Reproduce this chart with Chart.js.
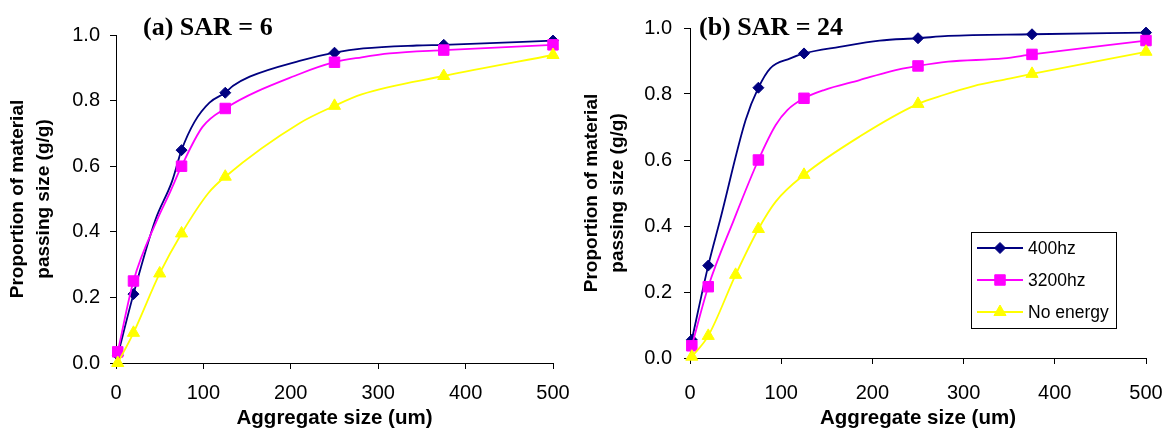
<!DOCTYPE html>
<html>
<head>
<meta charset="utf-8">
<script src="https://cdn.jsdelivr.net/npm/chart.js@4"></script>
<style>
  html, body { margin: 0; padding: 0; background: #fff; width: 1166px; height: 428px; overflow: hidden; position: relative; }
  .wrap { position: absolute; top: 0; height: 428px; }
  #wa { left: 0; width: 584px; }
  #wb { left: 574px; width: 608px; }
</style>
</head>
<body>
<div class="wrap" id="wa"><canvas id="ca"></canvas></div>
<div class="wrap" id="wb"><canvas id="cb"></canvas></div>
<script>
// ---------- data ----------
const seriesNames = ['400hz', '3200hz', 'No energy'];
const xTicks = [0, 100, 200, 300, 400, 500];
const yTicks = [0.0, 0.2, 0.4, 0.6, 0.8, 1.0];
const markedSizes = [2, 20, 75, 125, 250, 375, 500];
const markedSizesNoEnergy = [2, 20, 50, 75, 125, 250, 375, 500];

// (a) SAR = 6
const sizesA400 = [2, 20, 45, 64, 75, 90, 107, 125, 134, 153, 210, 250, 283, 344, 375, 500];
const passA400  = [0.024, 0.21, 0.436, 0.553, 0.649, 0.736, 0.794, 0.824, 0.845, 0.873, 0.921, 0.946, 0.959, 0.968, 0.970, 0.983];
const sizesA3200 = [2, 20, 47, 62, 75, 99, 125, 210, 250, 281, 313, 375, 500];
const passA3200  = [0.034, 0.25, 0.436, 0.522, 0.60, 0.72, 0.776, 0.881, 0.917, 0.932, 0.944, 0.954, 0.970];
const sizesANone = [2, 20, 50, 75, 106, 125, 210, 250, 281, 375, 500];
const passANone  = [0.0, 0.092, 0.273, 0.395, 0.519, 0.568, 0.731, 0.784, 0.819, 0.875, 0.939];

// (b) SAR = 24
const sizesB400 = [2, 20, 33, 61, 75, 88, 110, 125, 164, 208, 250, 283, 375, 500];
const passB400  = [0.055, 0.28, 0.418, 0.721, 0.819, 0.878, 0.908, 0.923, 0.943, 0.962, 0.969, 0.976, 0.981, 0.986];
const sizesB3200 = [2, 20, 48, 75, 94, 107, 125, 147, 186, 219, 250, 283, 344, 375, 500];
const passB3200  = [0.037, 0.216, 0.418, 0.60, 0.706, 0.752, 0.787, 0.812, 0.842, 0.868, 0.885, 0.898, 0.908, 0.920, 0.962];
const sizesBNone = [2, 20, 50, 75, 94, 125, 186, 250, 278, 311, 347, 375, 500];
const passBNone  = [0.004, 0.067, 0.252, 0.391, 0.474, 0.555, 0.671, 0.770, 0.797, 0.824, 0.845, 0.861, 0.928];

const titleA = '(a) SAR = 6';
const titleB = '(b) SAR = 24';
const xTitle = 'Aggregate size (um)';
const yTitle = ['Proportion of material', 'passing size (g/g)'];

// ---------- styles ----------
const COLORS = ['#000080', '#FF00FF', '#FFFF00'];
const SHAPES = ['rectRot', 'rect', 'triangle'];
const RADII = [5.5, 7.4, 7];
const SANS = '"Liberation Sans", Arial, sans-serif';

function pts(xs, ys) { return xs.map((x, i) => ({ x: x, y: ys[i] })); }

function makeDataset(i, xs, ys, marks) {
  return {
    label: seriesNames[i],
    data: pts(xs, ys),
    borderColor: COLORS[i],
    backgroundColor: COLORS[i],
    pointBackgroundColor: COLORS[i],
    pointBorderColor: COLORS[i],
    pointStyle: SHAPES[i],
    pointBorderWidth: 1,
    pointRadius: (ctx) => (ctx.raw && marks.includes(ctx.raw.x)) ? RADII[i] : 0,
    borderWidth: 1.8,
    cubicInterpolationMode: 'monotone',
    clip: false,
    order: 3 - i
  };
}

const titlePlugin = {
  id: 'panelTitle',
  afterDraw(chart, args, opts) {
    const { ctx, chartArea } = chart;
    ctx.save();
    ctx.font = 'bold 26px "Liberation Serif", "Times New Roman", serif';
    ctx.fillStyle = '#000';
    ctx.textBaseline = 'alphabetic';
    ctx.textAlign = 'left';
    ctx.fillText(opts.text, chartArea.left + opts.dx, opts.baseline);
    ctx.restore();
  }
};

const boxLegendPlugin = {
  id: 'boxLegend',
  afterDraw(chart, args, opts) {
    if (!opts.show) return;
    const { ctx, chartArea } = chart;
    const w = 145, h = 96;
    const right = chartArea.right - 30, bottom = chartArea.bottom - 30;
    const left = right - w, top = bottom - h;
    ctx.save();
    ctx.fillStyle = '#fff';
    ctx.fillRect(left, top, w, h);
    ctx.strokeStyle = '#000';
    ctx.lineWidth = 1;
    ctx.strokeRect(left + 0.5, top + 0.5, w, h);
    chart.data.datasets.forEach((ds, i) => {
      const cy = top + 16 + i * 32;
      ctx.strokeStyle = ds.borderColor;
      ctx.lineWidth = 1.8;
      ctx.beginPath();
      ctx.moveTo(left + 6, cy);
      ctx.lineTo(left + 52, cy);
      ctx.stroke();
      ctx.fillStyle = ds.pointBackgroundColor;
      ctx.strokeStyle = ds.pointBorderColor;
      ctx.lineWidth = 1;
      Chart.helpers.drawPoint(ctx, { pointStyle: ds.pointStyle, radius: RADII[i], borderWidth: 1, rotation: 0 }, left + 29, cy);
      ctx.fillStyle = '#000';
      ctx.font = '17.5px ' + SANS;
      ctx.textBaseline = 'middle';
      ctx.textAlign = 'left';
      ctx.fillText(ds.label, left + 57, cy + 1);
    });
    ctx.restore();
  }
};

function makeChart(canvasId, datasets, opt) {
  return new Chart(document.getElementById(canvasId), {
    type: 'line',
    data: { datasets: datasets },
    plugins: [titlePlugin, boxLegendPlugin],
    options: {
      responsive: true,
      maintainAspectRatio: false,
      animation: false,
      events: [],
      layout: { autoPadding: false, padding: { left: 0, right: opt.padRight, top: opt.top, bottom: 0 } },
      plugins: {
        legend: { display: false },
        tooltip: { enabled: false },
        panelTitle: { text: opt.title, dx: opt.titleDx, baseline: 35 },
        boxLegend: { show: opt.legend }
      },
      scales: {
        x: {
          type: 'linear',
          min: 0, max: 500,
          afterBuildTicks: (s) => { s.ticks = xTicks.map(v => ({ value: v })); },
          afterFit: (s) => { s.height = opt.xAxisH; },
          ticks: { color: '#000', font: { family: SANS, size: 20 }, padding: opt.xPad, maxRotation: 0 },
          grid: { display: true, drawOnChartArea: false, drawTicks: true, tickLength: 6, color: '#000', lineWidth: 1 },
          border: { display: true, color: '#000', width: 1 },
          title: { display: true, text: xTitle, color: '#000', font: { family: SANS, size: 20.5, weight: 'bold', lineHeight: '20px' }, padding: { top: 0, bottom: 0 } }
        },
        y: {
          type: 'linear',
          min: 0, max: 1,
          afterBuildTicks: (s) => { s.ticks = yTicks.map(v => ({ value: v })); },
          afterFit: (s) => { s.width = 116; },
          ticks: { color: '#000', font: { family: SANS, size: 20 }, padding: opt.yPad, callback: (v) => Number(v).toFixed(1) },
          grid: { display: true, drawOnChartArea: false, drawTicks: true, tickLength: 6, color: '#000', lineWidth: 1 },
          border: { display: true, color: '#000', width: 1 },
          title: { display: true, text: yTitle, color: '#000', font: { family: SANS, size: 19, weight: 'bold', lineHeight: '26px' }, padding: { top: 5, bottom: 0 } }
        }
      }
    }
  });
}

makeChart('ca', [
  makeDataset(0, sizesA400, passA400, markedSizes),
  makeDataset(1, sizesA3200, passA3200, markedSizes),
  makeDataset(2, sizesANone, passANone, markedSizesNoEnergy)
], { padRight: 31, top: 35, xAxisH: 65, xPad: 12, yPad: 10, title: titleA, titleDx: 27, legend: false });

makeChart('cb', [
  makeDataset(0, sizesB400, passB400, markedSizes),
  makeDataset(1, sizesB3200, passB3200, markedSizes),
  makeDataset(2, sizesBNone, passBNone, markedSizesNoEnergy)
], { padRight: 36, top: 28, xAxisH: 70, xPad: 17, yPad: 12, title: titleB, titleDx: 9, legend: true });
</script>
</body>
</html>
